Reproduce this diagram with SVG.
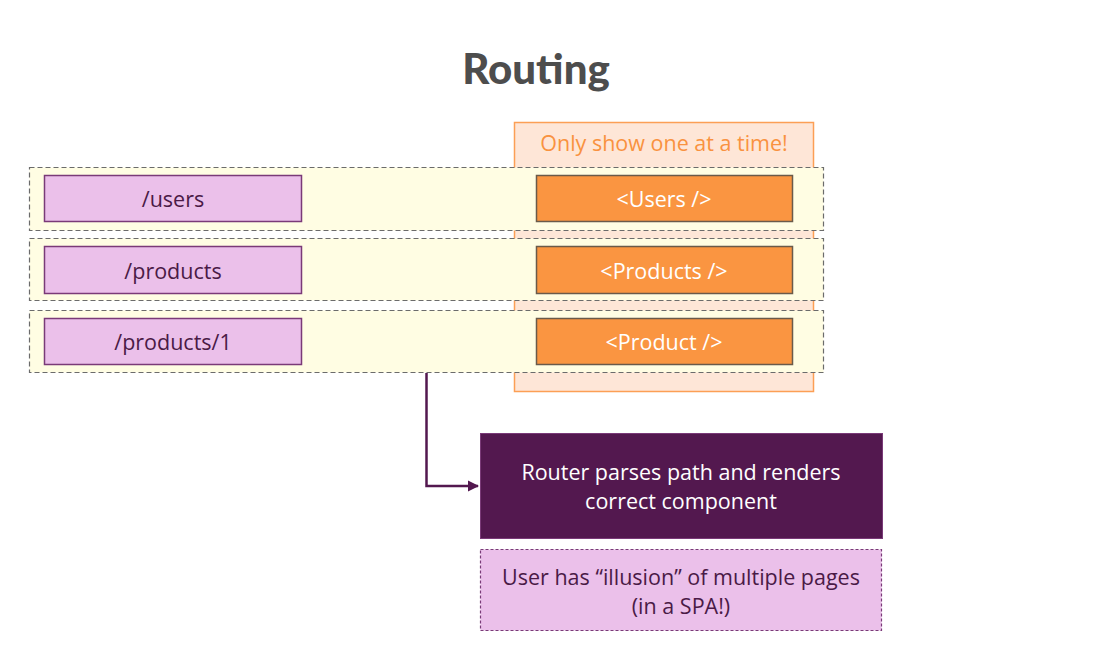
<svg xmlns="http://www.w3.org/2000/svg" width="1108" height="648" viewBox="0 0 1108 648">
<style>
text{font-family:"Open Sans","Liberation Sans",sans-serif;text-anchor:middle;dominant-baseline:central}
.title{font-family:Lato,"Open Sans",sans-serif;font-weight:900;font-size:42px;fill:#4d4d4d}
.row{fill:#fffde3;stroke:#6b6b6b;stroke-width:1.2;stroke-dasharray:5 3}
.path{fill:#ebc0ea;stroke:#7a3a78;stroke-width:1.5}
.pathT{font-size:21.5px;fill:#4a1a46}
.comp{fill:#fa9541;stroke:#6a5a4a;stroke-width:1.5}
.compT{font-size:21.5px;fill:#ffffff}
.hint{fill:#fee6d7;stroke:#fc9f55;stroke-width:1.5}
.hintT{font-size:21.5px;fill:#f99240}
.router{fill:#53184f;stroke:#7a3a78;stroke-width:1}
.routerT{font-size:21.5px;fill:#ffffff}
.note{fill:#ebc0ea;stroke:#7a3a78;stroke-width:1.2;stroke-dasharray:3 2}
.noteT{font-size:21.5px;fill:#4a1a46}
.conn{fill:none;stroke:#53184f;stroke-width:2.5}
</style>
<defs>
<marker id="arr" viewBox="0 0 10 10" refX="9" refY="5" markerWidth="4.5" markerHeight="4.5" orient="auto" markerUnits="strokeWidth">
<path d="M0,0 L10,5 L0,10 z" fill="#53184f"/>
</marker>
</defs>
<rect width="1108" height="648" fill="#ffffff"/>
<text class="title" x="536" y="68">Routing</text>
<g id="hint">
<rect class="hint" x="514.5" y="122.5" width="299" height="269"/>
<text class="hintT" x="664" y="142">Only show one at a time!</text>
</g>
<g id="row-users">
<rect class="row" x="29.5" y="167.5" width="794" height="63"/>
<rect class="path" x="44.5" y="175.5" width="257" height="46"/>
<text class="pathT" x="173" y="198">/users</text>
<rect class="comp" x="536.5" y="175.5" width="256" height="46"/>
<text class="compT" x="664" y="198">&lt;Users /&gt;</text>
</g>
<g id="row-products">
<rect class="row" x="29.5" y="238.5" width="794" height="62"/>
<rect class="path" x="44.5" y="246.5" width="257" height="47"/>
<text class="pathT" x="173" y="270">/products</text>
<rect class="comp" x="536.5" y="246.5" width="256" height="47"/>
<text class="compT" x="664" y="270">&lt;Products /&gt;</text>
</g>
<g id="row-product">
<rect class="row" x="29.5" y="310.5" width="794" height="62"/>
<rect class="path" x="44.5" y="318.5" width="257" height="46"/>
<text class="pathT" x="173" y="341">/products/1</text>
<rect class="comp" x="536.5" y="318.5" width="256" height="46"/>
<text class="compT" x="664" y="341">&lt;Product /&gt;</text>
</g>
<g id="connectors">
<path class="conn" d="M426.5,373 V486 H478" marker-end="url(#arr)"/>
</g>
<g id="router">
<rect class="router" x="480.5" y="433.5" width="402" height="105"/>
<text class="routerT" x="681" y="471">Router parses path and renders</text>
<text class="routerT" x="681" y="500">correct component</text>
</g>
<g id="note">
<rect class="note" x="480.5" y="549.5" width="401" height="81"/>
<text class="noteT" x="681" y="576">User has “illusion” of multiple pages</text>
<text class="noteT" x="681" y="605">(in a SPA!)</text>
</g>
</svg>
